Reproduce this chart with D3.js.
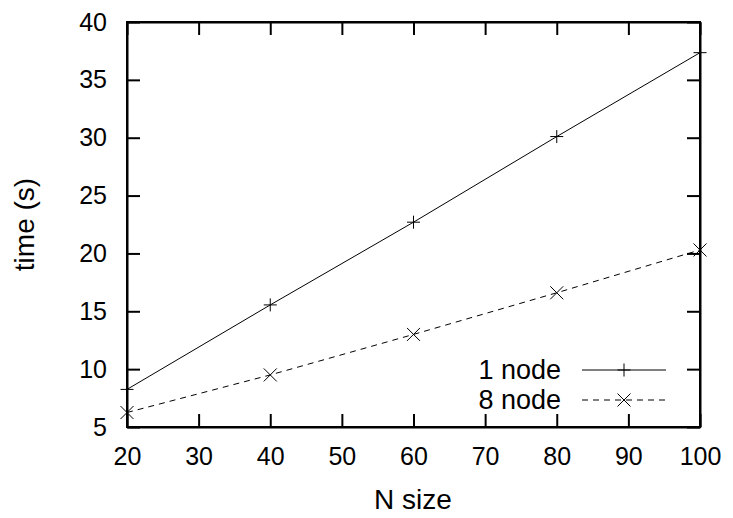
<!DOCTYPE html>
<html lang="en">
<head>
<meta charset="UTF-8">
<title>time vs N size</title>
<script src="https://cdn.jsdelivr.net/npm/d3@7"></script>
<style>
	body{margin:0;background:#fff;}
	svg{display:block;font-family:"Liberation Sans",Arial,sans-serif;}
	.axis path,.axis line{stroke:#000;stroke-width:2;}
	.axis text{font-size:25px;fill:#000;font-family:"Liberation Sans",Arial,sans-serif;}
</style>
</head>
<body>
<svg id="svg" width="733" height="518"></svg>
<script>
var nSizes = [20, 40, 60, 80, 100];
var oneNode = [8.25, 15.55, 22.7, 30.1, 37.35];
var eightNode = [6.25, 9.5, 13.0, 16.6, 20.3];
var xTicks = [20, 30, 40, 50, 60, 70, 80, 90, 100];
var yTicks = [5, 10, 15, 20, 25, 30, 35, 40];
var seriesNames = ["1 node", "8 node"];

var svg = d3.select("#svg");
var pLeft = 127, pRight = 700, pTop = 22, pBottom = 427;

var x = d3.scaleLinear().domain([20, 100]).range([pLeft, pRight]);
var y = d3.scaleLinear().domain([5, 40]).range([pBottom, pTop]);

// axes with inward ticks, mirrored on top/right
svg.append("g").attr("class", "axis")
	.attr("transform", "translate(0," + pBottom + ")")
	.call(d3.axisBottom(x).tickValues(xTicks).tickSizeInner(-13).tickSizeOuter(0))
	.call(g => g.selectAll("text").attr("y", 38).attr("dy", 0));
svg.append("g").attr("class", "axis")
	.attr("transform", "translate(0," + pTop + ")")
	.call(d3.axisTop(x).tickValues(xTicks).tickSizeInner(-13).tickSizeOuter(0).tickFormat(""));
svg.append("g").attr("class", "axis")
	.attr("transform", "translate(" + pLeft + ",0)")
	.call(d3.axisLeft(y).tickValues(yTicks).tickSizeInner(-13).tickSizeOuter(0).tickPadding(20));
svg.append("g").attr("class", "axis")
	.attr("transform", "translate(" + pRight + ",0)")
	.call(d3.axisRight(y).tickValues(yTicks).tickSizeInner(-13).tickSizeOuter(0).tickFormat(""));

svg.append("rect")
	.attr("x", pLeft).attr("y", pTop)
	.attr("width", pRight - pLeft).attr("height", pBottom - pTop)
	.attr("fill", "none").attr("stroke", "#000").attr("stroke-width", 2);

// axis titles
svg.append("text")
	.attr("x", 413).attr("y", 509)
	.attr("text-anchor", "middle")
	.attr("font-size", 28)
	.text("N size");
svg.append("text")
	.attr("transform", "translate(34," + ((pTop + pBottom) / 2) + ") rotate(-90)")
	.attr("text-anchor", "middle")
	.attr("font-size", 28)
	.text("time (s)");

var line = d3.line()
	.x((d, i) => x(nSizes[i]))
	.y(d => y(d));

function plusPath(cx, cy, r){
	return "M" + (cx - r) + "," + cy + "H" + (cx + r) + "M" + cx + "," + (cy - r) + "V" + (cy + r);
}
function crossPath(cx, cy, r){
	return "M" + (cx - r) + "," + (cy - r) + "L" + (cx + r) + "," + (cy + r) +
		"M" + (cx - r) + "," + (cy + r) + "L" + (cx + r) + "," + (cy - r);
}

var series = [
	{name: seriesNames[0], values: oneNode, dash: null, marker: plusPath},
	{name: seriesNames[1], values: eightNode, dash: "6,5", marker: crossPath}
];

series.forEach(function(s, k){
	svg.append("path")
		.attr("d", line(s.values))
		.attr("fill", "none")
		.attr("stroke", "#000")
		.attr("stroke-width", 1)
		.attr("stroke-dasharray", s.dash);
	svg.selectAll(".m" + k)
		.data(s.values)
		.enter().append("path")
		.attr("class", "m" + k)
		.attr("d", (d, i) => s.marker(x(nSizes[i]), y(d), 6.5))
		.attr("stroke", "#000")
		.attr("stroke-width", 1)
		.attr("fill", "none");

	// legend
	var ly = 370 + k * 30;
	svg.append("text")
		.attr("x", 561).attr("y", ly)
		.attr("dy", "0.35em")
		.attr("text-anchor", "end")
		.attr("font-size", 27)
		.text(s.name);
	svg.append("line")
		.attr("x1", 582).attr("x2", 666)
		.attr("y1", ly).attr("y2", ly)
		.attr("stroke", "#000")
		.attr("stroke-width", 1)
		.attr("stroke-dasharray", s.dash);
	svg.append("path")
		.attr("d", s.marker(624, ly, 6.5))
		.attr("stroke", "#000")
		.attr("stroke-width", 1);
});
</script>
</body>
</html>
